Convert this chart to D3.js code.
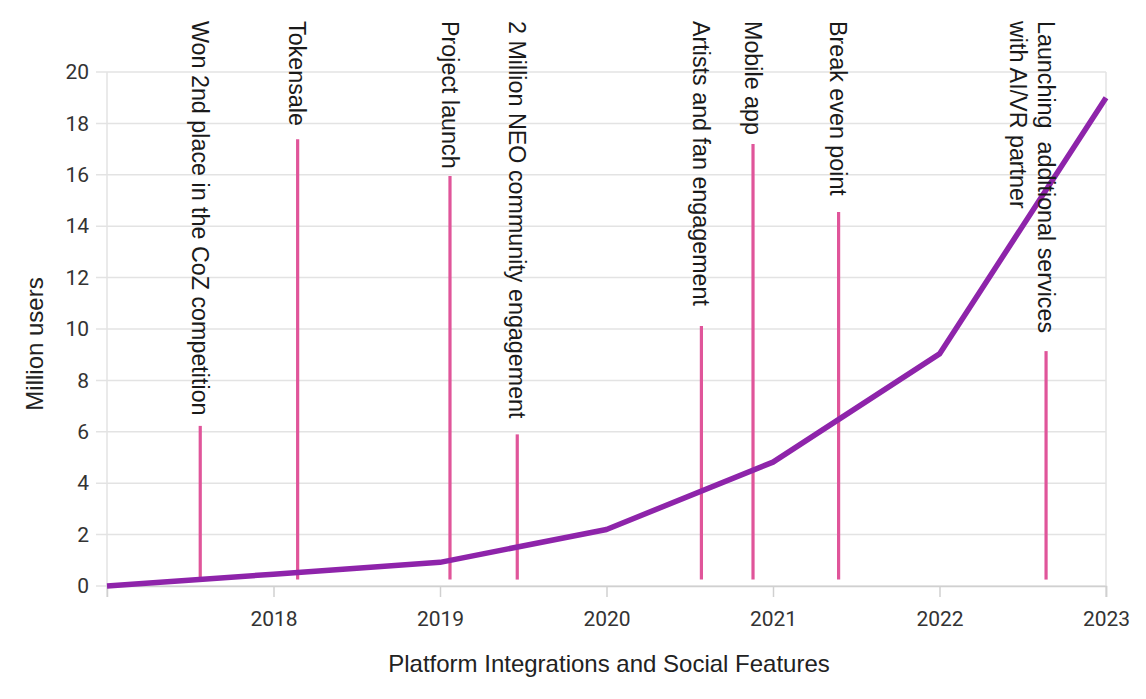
<!DOCTYPE html>
<html><head><meta charset="utf-8">
<script src="https://cdn.jsdelivr.net/npm/d3@7"></script>
<style>
html,body{margin:0;padding:0;background:#fff;}
svg{display:block;font-family:"Liberation Sans", Arial, sans-serif;}
</style></head>
<body><svg id="c" width="1146" height="699"></svg>
<script>
const years = [2017, 2018, 2019, 2020, 2021, 2022, 2023];
const users = [0, 0.46, 0.92, 2.2, 4.82, 9.03, 19.0];
const eventYears = [2017.56, 2018.145, 2019.06, 2019.464, 2020.57, 2020.88, 2021.394, 2022.64];
const eventHeights = [6.23, 17.38, 15.95, 5.9, 10.12, 17.2, 14.55, 9.14];
const eventBase = 0.25;
const eventLabels = [
  ["Won 2nd place in the CoZ competition"],
  ["Tokensale"],
  ["Project launch"],
  ["2 Million NEO community engagement"],
  ["Artists and fan engagement"],
  ["Mobile app"],
  ["Break even point"],
  ["Launching  additional services", "with AI/VR partner"]
];
const xTicks = [2018, 2019, 2020, 2021, 2022, 2023];
const yTicks = [0, 2, 4, 6, 8, 10, 12, 14, 16, 18, 20];
const xTitle = "Platform Integrations and Social Features";
const yTitle = "Million users";

const svg = d3.select("#c");
const L = 107, R = 1106, T = 72, B = 586;
const x = d3.scaleLinear().domain([2017, 2023]).range([L, R]);
const y = d3.scaleLinear().domain([0, 20]).range([B, T]);

// grid
svg.append("g").selectAll("line").data(yTicks).join("line")
  .attr("x1", L - 11).attr("x2", R).attr("y1", d => y(d)).attr("y2", d => y(d))
  .attr("stroke", "#e3e3e3").attr("stroke-width", 1.5);
svg.append("line").attr("x1", L).attr("x2", L).attr("y1", T).attr("y2", B + 11)
  .attr("stroke", "#e3e3e3").attr("stroke-width", 1.5);
svg.append("line").attr("x1", R).attr("x2", R).attr("y1", T).attr("y2", B + 11)
  .attr("stroke", "#e3e3e3").attr("stroke-width", 1.5);

// y axis
const ya = svg.append("g").attr("transform", `translate(${L - 11},0)`)
  .call(d3.axisLeft(y).tickValues(yTicks).tickSize(0).tickPadding(7));
ya.select(".domain").remove();
ya.selectAll("text").attr("font-size", 21).attr("fill", "#333").attr("font-family", "Roboto");

// x axis
const xa = svg.append("g").attr("transform", `translate(0,${B})`)
  .call(d3.axisBottom(x).tickValues(xTicks).tickFormat(d3.format("d")).tickSize(11).tickPadding(14));
xa.select(".domain").attr("stroke", "#d0d0d0").attr("stroke-width", 1.5);
xa.selectAll("line").attr("stroke", "#d0d0d0").attr("stroke-width", 1.5);
xa.selectAll("text").attr("font-size", 21).attr("fill", "#333").attr("font-family", "Roboto");

// event lines
svg.append("g").selectAll("line").data(eventYears).join("line")
  .attr("x1", d => x(d)).attr("x2", d => x(d))
  .attr("y1", y(eventBase)).attr("y2", (d, i) => y(eventHeights[i]))
  .attr("stroke", "#e0559a").attr("stroke-width", 3.2);

// main line
const pts = years.map((yr, i) => [yr, users[i]]);
svg.append("path").datum(pts)
  .attr("d", d3.line().x(d => x(d[0])).y(d => y(d[1])))
  .attr("fill", "none").attr("stroke", "#8e24aa").attr("stroke-width", 5.5)
  .attr("stroke-linejoin", "round");

// event labels
const lg = svg.append("g");
eventLabels.forEach((lines, i) => {
  const cx = x(eventYears[i]);
  lines.forEach((t, j) => {
    lg.append("text")
      .attr("transform", `translate(${cx - 28 * j},21) rotate(90)`)
      .attr("dy", "0.35em")
      .attr("font-size", 23.3).attr("fill", "#1a1a1a")
      .style("white-space", "pre")
      .text(t);
  });
});

// titles
svg.append("text").attr("x", 609).attr("y", 672).attr("text-anchor", "middle")
  .attr("font-size", 24).attr("fill", "#222").text(xTitle);
svg.append("text").attr("transform", `translate(43,344) rotate(-90)`)
  .attr("text-anchor", "middle").attr("font-size", 24).attr("fill", "#222").text(yTitle);
</script></body></html>
